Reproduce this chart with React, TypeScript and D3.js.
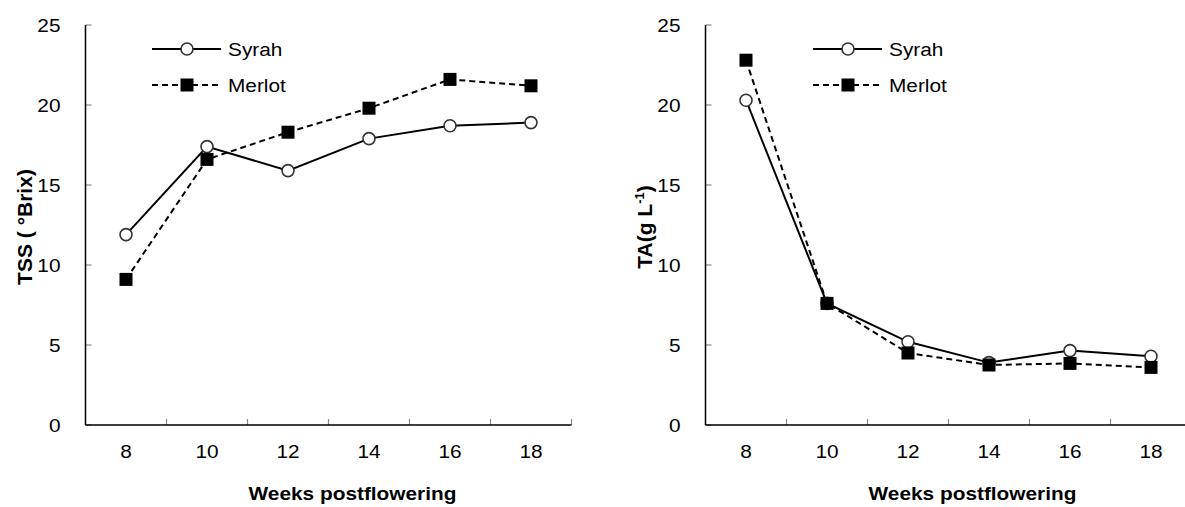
import React from "react";
import * as d3 from "d3";

const weeks = ["8", "10", "12", "14", "16", "18"];
const yTicks = [0, 5, 10, 15, 20, 25];

const tssSyrah = [11.9, 17.4, 15.9, 17.9, 18.7, 18.9];
const tssMerlot = [9.1, 16.6, 18.3, 19.8, 21.6, 21.2];

const taSyrah = [20.3, 7.6, 5.2, 3.9, 4.65, 4.3];
const taMerlot = [22.8, 7.6, 4.5, 3.75, 3.85, 3.6];

const seriesNames = ["Syrah", "Merlot"];

const FONT = "'Liberation Sans', Arial, Helvetica, sans-serif";
const FS = 18.6;
const SX = 1.12;

function T({
  x,
  y,
  anchor = "start",
  bold = false,
  children,
}: {
  x: number;
  y: number;
  anchor?: string;
  bold?: boolean;
  children: React.ReactNode;
}) {
  return (
    <text
      transform={`translate(${x},${y}) scale(${SX},1)`}
      textAnchor={anchor}
      fontSize={FS}
      fontWeight={bold ? "bold" : "normal"}
      fontFamily={FONT}
      fill="#000"
    >
      {children}
    </text>
  );
}

type PanelProps = {
  x0: number;
  syrah: number[];
  merlot: number[];
  yTitle: React.ReactNode;
  yTitleX: number;
  legendX: number;
};

function Panel({ x0, syrah, merlot, yTitle, yTitleX, legendX }: PanelProps) {
  const band = 81;
  const x = d3.scaleBand<string>().domain(weeks).range([x0, x0 + band * weeks.length]).padding(0);
  const y = d3.scaleLinear().domain([0, 25]).range([425, 25]);
  const cx = (w: string) => (x(w) as number) + x.bandwidth() / 2;
  const line = d3
    .line<number>()
    .x((_, i) => cx(weeks[i]))
    .y((d) => y(d));
  const [xa, xb] = x.range();
  const tickColor = "#888";
  const titleCx = (xa + xb) / 2 + 24;

  return (
    <g>
      {yTicks.map((t) => (
        <g key={"y" + t}>
          <line x1={xa} x2={xa + 6} y1={y(t)} y2={y(t)} stroke={tickColor} strokeWidth={1.2} />
          <T x={xa - 25} y={y(t) + 7} anchor="end">
            {t}
          </T>
        </g>
      ))}
      {weeks.map((w) => (
        <line
          key={"xt" + w}
          x1={(x(w) as number) + band}
          x2={(x(w) as number) + band}
          y1={y(0)}
          y2={y(0) - 6}
          stroke={tickColor}
          strokeWidth={1.2}
        />
      ))}
      {weeks.map((w) => (
        <T key={"xl" + w} x={cx(w)} y={458} anchor="middle">
          {w}
        </T>
      ))}
      <line x1={xa} x2={xa} y1={y(25)} y2={y(0)} stroke="#000" strokeWidth={1.5} />
      <line x1={xa} x2={xb} y1={y(0)} y2={y(0)} stroke="#000" strokeWidth={1.5} />

      <T x={titleCx} y={500} anchor="middle" bold>
        Weeks postflowering
      </T>
      <text
        transform={`translate(${yTitleX},227) rotate(-90)`}
        textAnchor="middle"
        fontSize={21}
        fontWeight="bold"
        fontFamily={FONT}
      >
        {yTitle}
      </text>

      <path d={line(syrah) || ""} fill="none" stroke="#000" strokeWidth={2} />
      <path d={line(merlot) || ""} fill="none" stroke="#000" strokeWidth={2} strokeDasharray="6,4" />

      {syrah.map((v, i) => (
        <circle key={"s" + i} cx={cx(weeks[i])} cy={y(v)} r={6} fill="#fff" stroke="#333" strokeWidth={1.6} />
      ))}
      {merlot.map((v, i) => (
        <rect key={"m" + i} x={cx(weeks[i]) - 6.5} y={y(v) - 6.5} width={13} height={13} fill="#000" />
      ))}

      <g>
        <line x1={legendX} x2={legendX + 69} y1={49} y2={49} stroke="#000" strokeWidth={2} />
        <circle cx={legendX + 35} cy={49} r={6} fill="#fff" stroke="#333" strokeWidth={1.6} />
        <T x={legendX + 76} y={55.5}>
          {seriesNames[0]}
        </T>
        <line x1={legendX} x2={legendX + 69} y1={85} y2={85} stroke="#000" strokeWidth={2} strokeDasharray="6,4" />
        <rect x={legendX + 35 - 6.5} y={85 - 6.5} width={13} height={13} fill="#000" />
        <T x={legendX + 76} y={91.5}>
          {seriesNames[1]}
        </T>
      </g>
    </g>
  );
}

export default function App() {
  return (
    <svg width={1185} height={507} style={{ position: "absolute", left: 0, top: 0, background: "#fff" }}>
      <rect width={1185} height={507} fill="#fff" />
      <Panel
        x0={85.5}
        syrah={tssSyrah}
        merlot={tssMerlot}
        yTitle={"TSS ( °Brix)"}
        yTitleX={31.5}
        legendX={152}
      />
      <Panel
        x0={705.5}
        syrah={taSyrah}
        merlot={taMerlot}
        yTitle={
          <>
            TA(g L
            <tspan dy={-8} fontSize={13}>
              -1
            </tspan>
            <tspan dy={8}>)</tspan>
          </>
        }
        yTitleX={651.5}
        legendX={813}
      />
    </svg>
  );
}
